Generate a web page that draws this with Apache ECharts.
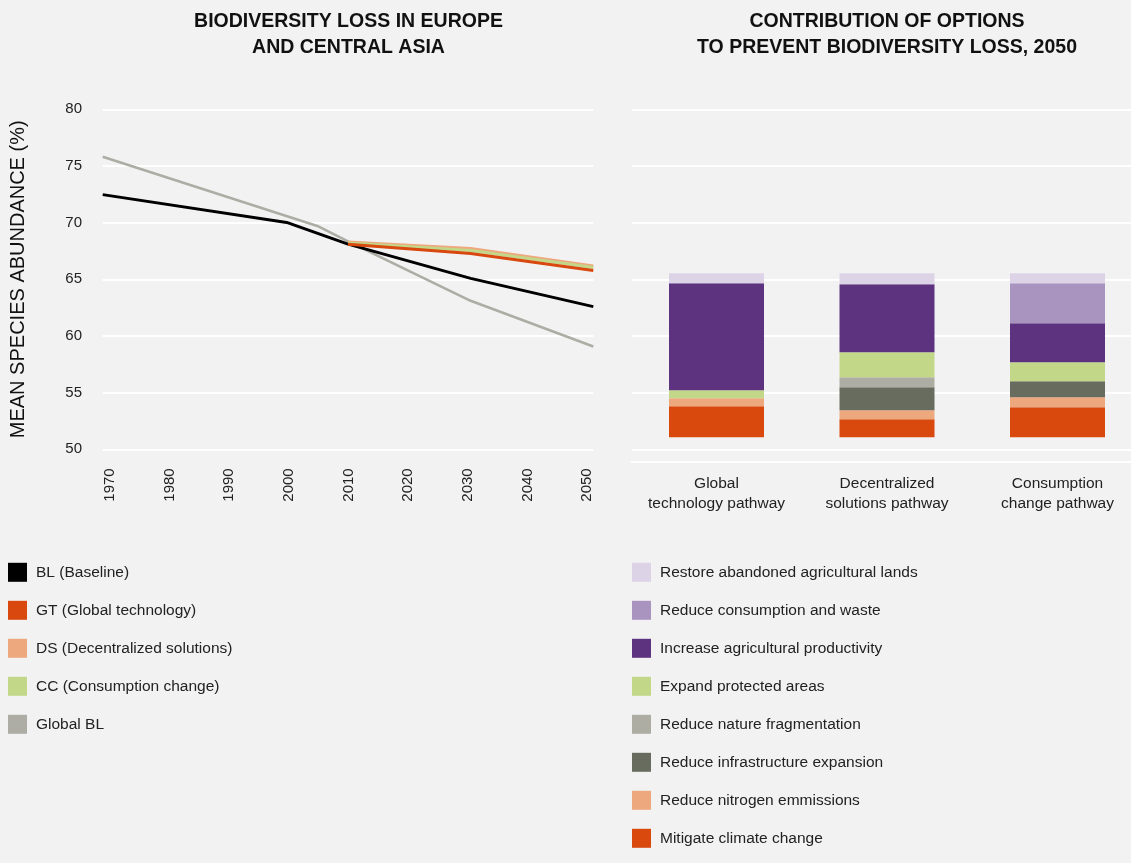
<!DOCTYPE html>
<html><head><meta charset="utf-8">
<script src="https://cdn.jsdelivr.net/npm/echarts@6/dist/echarts.min.js"></script>
<style>html,body{margin:0;padding:0;background:#f2f2f2}#c{width:1131px;height:863px}</style>
</head><body><div id="c"></div>
<script>
// ---- Data: left chart (mean species abundance, %) ----
const blYears = [1970, 2000, 2010, 2030, 2050];
const blValues = [72.47, 70.02, 68.1, 65.08, 62.59];
const globalYears = [1970, 2005, 2010, 2030, 2050];
const globalValues = [75.82, 69.71, 68.35, 63.1, 59.07];
const scenarioYears = [2010, 2030, 2050];
const gtValues = [68.1, 67.27, 65.77];
const dsValues = [68.3, 67.72, 66.18];
const ccValues = [68.2, 67.55, 66.05];
const yTicks = [50, 55, 60, 65, 70, 75, 80];
const yearTicks = [1970, 1980, 1990, 2000, 2010, 2020, 2030, 2040, 2050];

// ---- Data: right chart (contribution of options, 2050) ----
const pathways = ['Global\ntechnology pathway', 'Decentralized\nsolutions pathway', 'Consumption\nchange pathway'];
const barBase = [51.06, 51.06, 51.06];
const climate = [2.74, 1.59, 2.65];
const nitrogen = [0.71, 0.79, 0.88];
const infrastructure = [0, 2.03, 1.41];
const fragmentation = [0, 0.88, 0];
const protectedAreas = [0.71, 2.21, 1.68];
const productivity = [9.44, 6.0, 3.44];
const consumption = [0, 0, 3.53];
const restore = [0.88, 0.97, 0.88];

const lineNames = ['BL (Baseline)', 'GT (Global technology)', 'DS (Decentralized solutions)', 'CC (Consumption change)', 'Global BL'];
const optionNames = ['Restore abandoned agricultural lands', 'Reduce consumption and waste', 'Increase agricultural productivity', 'Expand protected areas', 'Reduce nature fragmentation', 'Reduce infrastructure expansion', 'Reduce nitrogen emmissions', 'Mitigate climate change'];

const pair = (xs, ys) => xs.map((x, i) => [x, ys[i]]);
const txt = '#222';
const white = {color: '#ffffff', width: 2};

function lineSeries(name, xs, ys, color, width) {
  return {name, type: 'line', xAxisIndex: 0, yAxisIndex: 0, data: pair(xs, ys), symbol: 'none',
    lineStyle: {color, width}, itemStyle: {color}, silent: true, animation: false};
}
const barColors = {
  restore: '#dcd3e7', consumption: '#a993bf', productivity: '#5d3380', protectedAreas: '#c2d888',
  fragmentation: '#adada3', infrastructure: '#686c5e', nitrogen: '#eea87e', climate: '#d9480c'
};
function barSeries(name, values, color) {
  return {name, type: 'bar', xAxisIndex: 3, yAxisIndex: 3, stack: 'opt', barWidth: 95, data: values,
    itemStyle: {color}, silent: true, clip: false, animation: false};
}

const chart = echarts.init(document.getElementById('c'));
chart.setOption({
  backgroundColor: '#f2f2f2',
  animation: false,
  textStyle: {fontFamily: 'Liberation Sans, Arial, sans-serif'},
  title: [
    {text: 'BIODIVERSITY LOSS IN EUROPE\nAND CENTRAL ASIA', left: 343.5, top: 4, textAlign: 'center',
     textStyle: {fontSize: 19.5, fontWeight: 'bold', color: '#111', lineHeight: 26}},
    {text: 'CONTRIBUTION OF OPTIONS\nTO PREVENT BIODIVERSITY LOSS, 2050', left: 882, top: 4, textAlign: 'center',
     textStyle: {fontSize: 19.5, fontWeight: 'bold', color: '#111', lineHeight: 26}}
  ],
  grid: [
    {left: 102.7, right: 537.7, top: 109.3, height: 340},
    {left: 110, right: 544, top: 109.3, height: 340},
    {left: 631.7, right: 0, top: 109.3, height: 340},
    {left: 716.5, right: 73.5, top: 109.3, height: 340}
  ],
  xAxis: [
    {gridIndex: 0, type: 'value', min: 1970, max: 2050, show: false},
    {gridIndex: 1, type: 'value', min: yearTicks[0], max: yearTicks[yearTicks.length - 1], interval: 10,
     axisLine: {show: false}, axisTick: {show: false}, splitLine: {show: false},
     axisLabel: {rotate: 90, margin: 19, fontSize: 15, color: txt, formatter: v => String(v)}},
    {gridIndex: 2, type: 'value', min: 0, max: 1, offset: 12.7,
     axisLine: {show: true, lineStyle: white}, axisTick: {show: false}, axisLabel: {show: false}, splitLine: {show: false}},
    {gridIndex: 3, type: 'category', data: pathways, boundaryGap: false,
     axisLine: {show: false}, axisTick: {show: false}, splitLine: {show: false},
     axisLabel: {margin: 24, fontSize: 15.5, lineHeight: 20, color: txt, interval: 0}}
  ],
  yAxis: [
    {gridIndex: 0, type: 'value', min: yTicks[0], max: yTicks[yTicks.length - 1], interval: 5,
     axisLine: {show: false}, axisTick: {show: false}, splitLine: {show: true, lineStyle: white},
     axisLabel: {fontSize: 15, color: txt, margin: 20.7, padding: [0, 0, 6, 0]},
     name: 'MEAN SPECIES ABUNDANCE (%)', nameLocation: 'middle', nameGap: 74.7, nameRotate: 90,
     nameTextStyle: {fontSize: 20, color: '#111'}},
    {gridIndex: 1, type: 'value', min: 50, max: 80, show: false},
    {gridIndex: 2, type: 'value', min: 50, max: 80, interval: 5,
     axisLine: {show: false}, axisTick: {show: false}, axisLabel: {show: false},
     splitLine: {show: true, lineStyle: white}},
    {gridIndex: 3, type: 'value', min: 50, max: 80, show: false}
  ],
  legend: [
    {left: 3, top: 557.8, orient: 'vertical', itemWidth: 19, itemHeight: 19, itemGap: 19, icon: 'rect',
     selectedMode: false, data: lineNames, itemStyle: {borderWidth: 0},
     textStyle: {fontSize: 15.5, color: txt, padding: [0, 0, 0, 4]}},
    {left: 627, top: 557.8, orient: 'vertical', itemWidth: 19, itemHeight: 19, itemGap: 19, icon: 'rect',
     selectedMode: false, data: optionNames, itemStyle: {borderWidth: 0},
     textStyle: {fontSize: 15.5, color: txt, padding: [0, 0, 0, 4]}}
  ],
  series: [
    lineSeries(lineNames[4], globalYears, globalValues, '#adada5', 2.6),
    lineSeries(lineNames[0], blYears, blValues, '#000000', 3),
    lineSeries(lineNames[2], scenarioYears, dsValues, '#eea87e', 3),
    lineSeries(lineNames[3], scenarioYears, ccValues, '#c2d888', 3),
    lineSeries(lineNames[1], scenarioYears, gtValues, '#d9480f', 3),
    {name: 'base', type: 'bar', xAxisIndex: 3, yAxisIndex: 3, stack: 'opt', barWidth: 95, data: barBase,
     itemStyle: {color: 'rgba(0,0,0,0)'}, silent: true, clip: false},
    barSeries(optionNames[7], climate, barColors.climate),
    barSeries(optionNames[6], nitrogen, barColors.nitrogen),
    barSeries(optionNames[5], infrastructure, barColors.infrastructure),
    barSeries(optionNames[4], fragmentation, barColors.fragmentation),
    barSeries(optionNames[3], protectedAreas, barColors.protectedAreas),
    barSeries(optionNames[2], productivity, barColors.productivity),
    barSeries(optionNames[1], consumption, barColors.consumption),
    barSeries(optionNames[0], restore, barColors.restore)
  ]
});
</script></body></html>
